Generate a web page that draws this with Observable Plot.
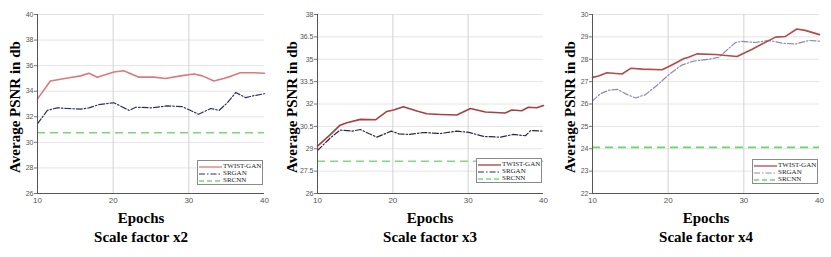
<!DOCTYPE html>
<html><head><meta charset="utf-8">
<script src="https://cdn.jsdelivr.net/npm/d3@7"></script>
<script src="https://cdn.jsdelivr.net/npm/@observablehq/plot@0.6"></script>
<style>
body{margin:0;background:#fff;}
#root{position:relative;width:831px;height:257px;overflow:hidden;background:#fff}
.panel{position:absolute;top:0;height:257px}
.ylab{position:absolute;white-space:nowrap;font-family:'Liberation Serif','Times New Roman','DejaVu Serif',serif;font-weight:bold;font-size:15px;transform:translate(-50%,-50%) rotate(-90deg);color:#000}
.xt{position:absolute;white-space:nowrap;font-family:'Liberation Serif','Times New Roman','DejaVu Serif',serif;font-weight:bold;font-size:15px;transform:translateX(-50%);line-height:15px;color:#000}
.legend{position:absolute;background:#fff;border:1px solid #8a8a8a;box-sizing:border-box;font-family:'Liberation Serif','Times New Roman',serif;font-size:7px;color:#222;padding:2px 1px 0 1px;white-space:nowrap;overflow:hidden}
.legend .row{display:flex;align-items:center;height:7px;line-height:7px;white-space:nowrap}
.legend svg{display:block;margin-right:1px;flex:none}
</style></head><body><div id="root"></div>
<script>
// ---------- data ----------
const xTicks = [10, 20, 30, 40];
const xGrid = [20, 30];
const seriesNames = ["TWIST-GAN", "SRGAN", "SRCNN"];

// Scale factor x2
const yTicks2 = [26, 28, 30, 32, 34, 36, 38, 40];
const twistEpochs2 = [10, 11.7, 14, 15.7, 16.8, 17.9, 20.1, 21.4, 23.4, 25.4, 26.9, 28.9, 30.7, 31.8, 33.3, 34.6, 35.7, 36.8, 38.6, 40];
const twist2 = [33.4, 34.8, 35.04, 35.2, 35.4, 35.1, 35.5, 35.6, 35.1, 35.1, 35.0, 35.2, 35.35, 35.2, 34.8, 35.0, 35.2, 35.45, 35.45, 35.4];
const srganEpochs2 = [10, 11.3, 12.6, 14, 15.7, 16.8, 18.1, 20.1, 22.1, 23, 25, 27.1, 29.1, 31.3, 32.9, 34, 35.1, 36.2, 37.5, 38.6, 40];
const srgan2 = [31.45, 32.5, 32.7, 32.65, 32.6, 32.7, 32.95, 33.1, 32.5, 32.75, 32.7, 32.85, 32.8, 32.2, 32.65, 32.5, 33.1, 33.9, 33.5, 33.65, 33.8];
const srcnn2 = 30.75;

// Scale factor x3
const yTicks3 = [26, 27.5, 29, 30.5, 32, 33.5, 35, 36.5, 38];
const twistEpochs3 = [10, 11.7, 13, 13.9, 15.7, 17.7, 19.2, 20.1, 21.4, 23.2, 24.5, 26.3, 28.5, 30.3, 32.3, 34.9, 35.8, 37.1, 38, 39.1, 40];
const twist3 = [29.17, 29.95, 30.58, 30.74, 30.97, 30.94, 31.5, 31.6, 31.82, 31.53, 31.35, 31.3, 31.26, 31.7, 31.46, 31.4, 31.6, 31.55, 31.78, 31.75, 31.9];
const srganEpochs3 = [10, 11.7, 13, 14.6, 15.7, 16.8, 17.9, 19.8, 20.8, 22.1, 24.1, 26.3, 28.5, 30.1, 32.1, 34.3, 36, 37.6, 38.3, 40];
const srgan3 = [28.88, 29.73, 30.25, 30.18, 30.29, 30.02, 29.78, 30.18, 30.0, 29.96, 30.09, 30.02, 30.18, 30.1, 29.82, 29.78, 29.96, 29.87, 30.22, 30.18];
const srcnn3 = 28.16;

// Scale factor x4
const yTicks4 = [22, 23, 24, 25, 26, 27, 28, 29, 30];
const twistEpochs4 = [10, 10.8, 11.9, 13.9, 15.1, 16.6, 19.2, 20.3, 22.1, 22.7, 23.8, 26.2, 29.1, 31.1, 32.4, 34.2, 35.5, 37, 38.1, 40];
const twist4 = [27.19, 27.25, 27.4, 27.34, 27.6, 27.56, 27.53, 27.71, 28.03, 28.09, 28.24, 28.21, 28.12, 28.45, 28.68, 28.99, 29.02, 29.35, 29.29, 29.1];
const srganEpochs4 = [10, 11.1, 12.2, 13.3, 14.6, 15.7, 17, 18.3, 20.3, 21.8, 23.4, 25.4, 26.7, 27.8, 28.9, 29.8, 31.5, 33.3, 35.1, 36.8, 38.6, 40];
const srgan4 = [26.14, 26.47, 26.62, 26.65, 26.42, 26.27, 26.42, 26.77, 27.37, 27.74, 27.92, 28.0, 28.09, 28.42, 28.75, 28.8, 28.75, 28.84, 28.72, 28.68, 28.84, 28.81];
const srcnn4 = 24.06;

// ---------- drawing ----------
const root = document.getElementById("root");

function panel(cfg) {
  const div = document.createElement("div");
  div.className = "panel";
  div.style.left = cfg.left + "px";
  div.style.width = cfg.width + "px";
  const yDomain = [cfg.yTicks[0], cfg.yTicks[cfg.yTicks.length - 1]];
  const twistData = cfg.twistE.map((e, i) => ({e, v: cfg.twist[i]}));
  const srganData = cfg.srganE.map((e, i) => ({e, v: cfg.srgan[i]}));
  const chart = Plot.plot({
    width: cfg.width, height: 257,
    marginLeft: 37, marginRight: cfg.mr, marginTop: 14, marginBottom: 64,
    x: {domain: [xTicks[0], xTicks[xTicks.length - 1]]},
    y: {domain: yDomain},
    style: {background: "transparent", fontFamily: "'Liberation Sans', sans-serif"},
    marks: [
      Plot.gridY(cfg.yTicks, {stroke: "#e4e4e4", strokeOpacity: 1}),
      Plot.gridX(xGrid, {stroke: "#d2d2d2", strokeOpacity: 1}),
      Plot.ruleY([cfg.srcnn], {stroke: cfg.c[2], strokeWidth: 1.6, strokeDasharray: "8,5"}),
      Plot.line(srganData, {x: "e", y: "v", stroke: cfg.c[1], strokeWidth: 1.2, strokeDasharray: "6,2,1.5,2"}),
      Plot.line(twistData, {x: "e", y: "v", stroke: cfg.c[0], strokeWidth: 1.6}),
      Plot.ruleX([xTicks[0]], {stroke: "#555"}),
      Plot.ruleY([yDomain[0]], {stroke: "#555"}),
      Plot.axisY(cfg.yTicks, {tickSize: 3, tickPadding: 1, fontSize: 7, fill: "#555", stroke: "#777", label: null, tickFormat: d => String(d)}),
      Plot.axisX(xTicks, {tickSize: 0, tickPadding: 4, fontSize: 8, fill: "#555", label: null})
    ]
  });
  div.appendChild(chart);

  const yl = document.createElement("div");
  yl.className = "ylab";
  yl.style.left = cfg.ylabX + "px";
  yl.style.top = "107px";
  yl.textContent = "Average PSNR in db";
  div.appendChild(yl);

  const t1 = document.createElement("div");
  t1.className = "xt";
  t1.style.left = cfg.titleX + "px";
  t1.style.top = "211px";
  t1.textContent = "Epochs";
  div.appendChild(t1);

  const t2 = document.createElement("div");
  t2.className = "xt";
  t2.style.left = cfg.titleX + "px";
  t2.style.top = "230px";
  t2.textContent = cfg.title;
  div.appendChild(t2);

  const lg = document.createElement("div");
  lg.className = "legend";
  const plotRight = cfg.width - cfg.mr;
  lg.style.left = (plotRight - 67) + "px";
  lg.style.top = cfg.legTop + "px";
  lg.style.width = "66px";
  lg.style.height = "25px";
  const dashes = [null, "6,2,1.5,2", "5,3"];
  seriesNames.forEach((name, i) => {
    const row = document.createElement("div");
    row.className = "row";
    const ns = "http://www.w3.org/2000/svg";
    const svg = document.createElementNS(ns, "svg");
    svg.setAttribute("width", "23"); svg.setAttribute("height", "4");
    const ln = document.createElementNS(ns, "line");
    ln.setAttribute("x1", "0"); ln.setAttribute("x2", "23");
    ln.setAttribute("y1", "2"); ln.setAttribute("y2", "2");
    ln.setAttribute("stroke", cfg.c[i]);
    ln.setAttribute("stroke-width", i === 1 ? "1" : "1.3");
    if (dashes[i]) ln.setAttribute("stroke-dasharray", dashes[i]);
    svg.appendChild(ln);
    row.appendChild(svg);
    const sp = document.createElement("span");
    sp.textContent = name;
    row.appendChild(sp);
    lg.appendChild(row);
  });
  div.appendChild(lg);
  root.appendChild(div);
}

panel({left: 0, width: 280, mr: 16, yTicks: yTicks2, twistE: twistEpochs2, twist: twist2, srganE: srganEpochs2, srgan: srgan2, srcnn: srcnn2,
  c: ["#dc7a78", "#2b2f6b", "#78d878"], title: "Scale factor x2", ylabX: 15, titleX: 141, legTop: 160});
panel({left: 280, width: 275, mr: 12, yTicks: yTicks3, twistE: twistEpochs3, twist: twist3, srganE: srganEpochs3, srgan: srgan3, srcnn: srcnn3,
  c: ["#a8403f", "#2a2a48", "#80da80"], title: "Scale factor x3", ylabX: 12, titleX: 150, legTop: 158});
panel({left: 555, width: 276, mr: 12, yTicks: yTicks4, twistE: twistEpochs4, twist: twist4, srganE: srganEpochs4, srgan: srgan4, srcnn: srcnn4,
  c: ["#b34b4b", "#8a8ab4", "#6fd36f"], title: "Scale factor x4", ylabX: 15, titleX: 151, legTop: 159});
</script>
</body></html>
